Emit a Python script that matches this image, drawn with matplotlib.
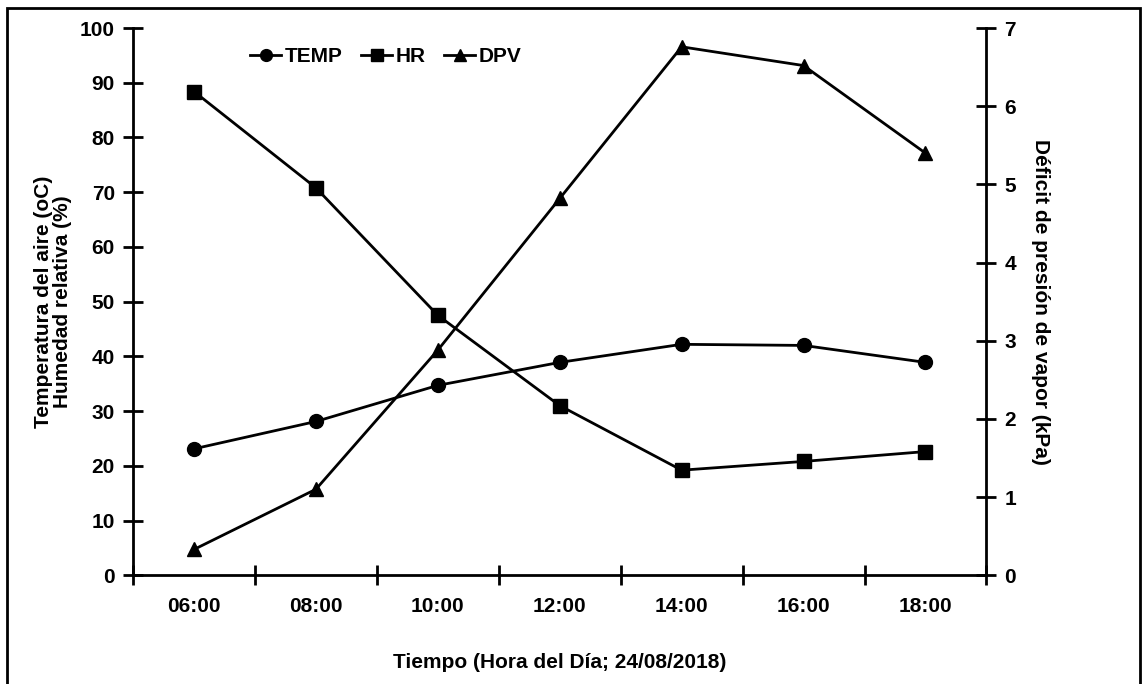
import matplotlib
matplotlib.use("Agg")
import matplotlib.pyplot as plt
from matplotlib.patches import Rectangle

plt.rcParams['font.family'] = ['Liberation Sans', 'DejaVu Sans']
plt.rcParams['font.weight'] = 'bold'

horas = ['06:00', '08:00', '10:00', '12:00', '14:00', '16:00', '18:00']
temp = [23.1, 28.1, 34.7, 38.9, 42.2, 42.0, 38.9]
hr = [88.4, 70.8, 47.5, 31.0, 19.2, 20.8, 22.6]
dpv = [0.33, 1.10, 2.88, 4.82, 6.76, 6.52, 5.40]

x = [i + 0.5 for i in range(len(horas))]
fs = 15

fig = plt.figure(figsize=(11.47, 6.84), dpi=100)
ax = fig.add_axes([0.116, 0.159, 0.744, 0.800])
ax2 = ax.twinx()

l1, = ax.plot(x, temp, color='black', lw=2, marker='o', ms=10, label='TEMP')
l2, = ax.plot(x, hr, color='black', lw=2, marker='s', ms=10, label='HR')
l3, = ax2.plot(x, dpv, color='black', lw=2, marker='^', ms=10, label='DPV')

ax.set_xlim(0, len(horas))
ax.set_ylim(0, 100)
ax2.set_ylim(0, 7)
ax.set_yticks(range(0, 101, 10))
ax2.set_yticks(range(0, 8))

# category boundaries get the tick marks, labels sit between them
ax.set_xticks(range(len(horas) + 1))
ax.set_xticklabels([])
ax.set_xticks(x, minor=True)
ax.set_xticklabels(horas, minor=True)
ax.tick_params(axis='x', which='minor', length=0, pad=16, labelsize=fs)
ax.tick_params(axis='x', which='major', direction='inout', length=14, width=2)
ax.tick_params(axis='y', direction='inout', length=14, width=2, labelsize=fs, pad=6)
ax2.tick_params(axis='y', direction='inout', length=14, width=2, labelsize=fs, pad=6)

for a in (ax, ax2):
    a.spines['top'].set_visible(False)
    for s in a.spines.values():
        s.set_linewidth(2)
ax.spines['right'].set_visible(False)
ax2.spines['left'].set_visible(False)
ax2.spines['bottom'].set_visible(False)

ax.set_xlabel('Tiempo (Hora del Día; 24/08/2018)', fontsize=fs, fontweight='bold', labelpad=26)
ax.set_ylabel('Temperatura del aire (oC)\nHumedad relativa (%)', fontsize=fs,
              fontweight='bold', labelpad=6, linespacing=1.0)
ax2.set_ylabel('Déficit de presión de vapor (kPa)', fontsize=fs, fontweight='bold',
               rotation=270, labelpad=24)

ax.legend(handles=[l1, l2, l3], loc='upper left', bbox_to_anchor=(0.115, 1.0), ncol=3,
          frameon=False, fontsize=fs, handlelength=1.5, handletextpad=0.15,
          columnspacing=0.9, markerscale=0.85)

fig.patches.append(Rectangle((0.006, -0.02), 0.988, 1.008, transform=fig.transFigure,
                             fill=False, edgecolor='black', lw=2))

fig.savefig('out.png', dpi=100)
